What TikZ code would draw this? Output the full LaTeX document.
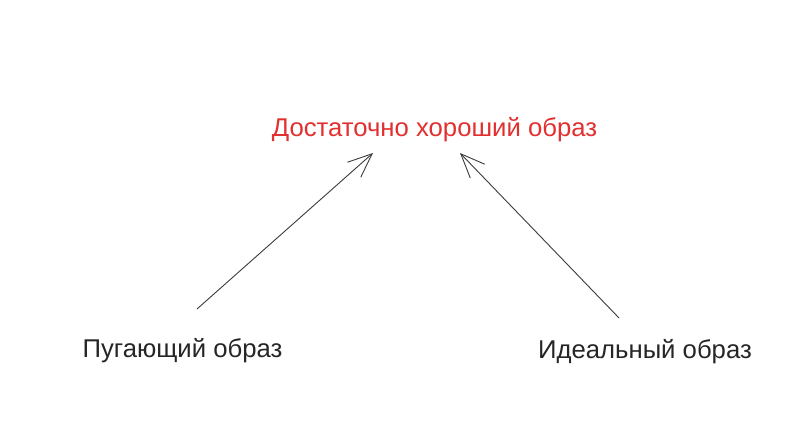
\documentclass[tikz,border=0pt]{standalone}
\usepackage{fontspec}
\setmainfont{Liberation Sans}
\usetikzlibrary{arrows.meta}
\definecolor{redtext}{RGB}{226,48,48}
\definecolor{linegray}{RGB}{60,60,60}
\tikzset{
  label/.style={inner sep=0pt, anchor=base, font=\fontsize{25.7}{30}\selectfont, text=black!85},
  goal/.style={label, text=redtext},
  conn/.style={draw=linegray, line width=0.9pt, -{Straight Barb[length=24pt,width=20pt,line width=0.9pt]}}
}
\begin{document}
\begin{tikzpicture}[x=1pt,y=1pt]
\useasboundingbox[fill=white] (0,0) rectangle (800,447);
\node[goal] (good) at (434.5,310.5) {Достаточно хороший образ};
\node[label] (scary) at (182.5,89) {Пугающий образ};
\node[label] (ideal) at (645,88) {Идеальный образ};
\coordinate (s1) at (197,138);
\coordinate (t1) at (373,294);
\coordinate (s2) at (619,129);
\coordinate (t2) at (460,294);
\draw[conn] (s1) -- (t1);
\draw[conn] (s2) -- (t2);
\end{tikzpicture}
\end{document}
